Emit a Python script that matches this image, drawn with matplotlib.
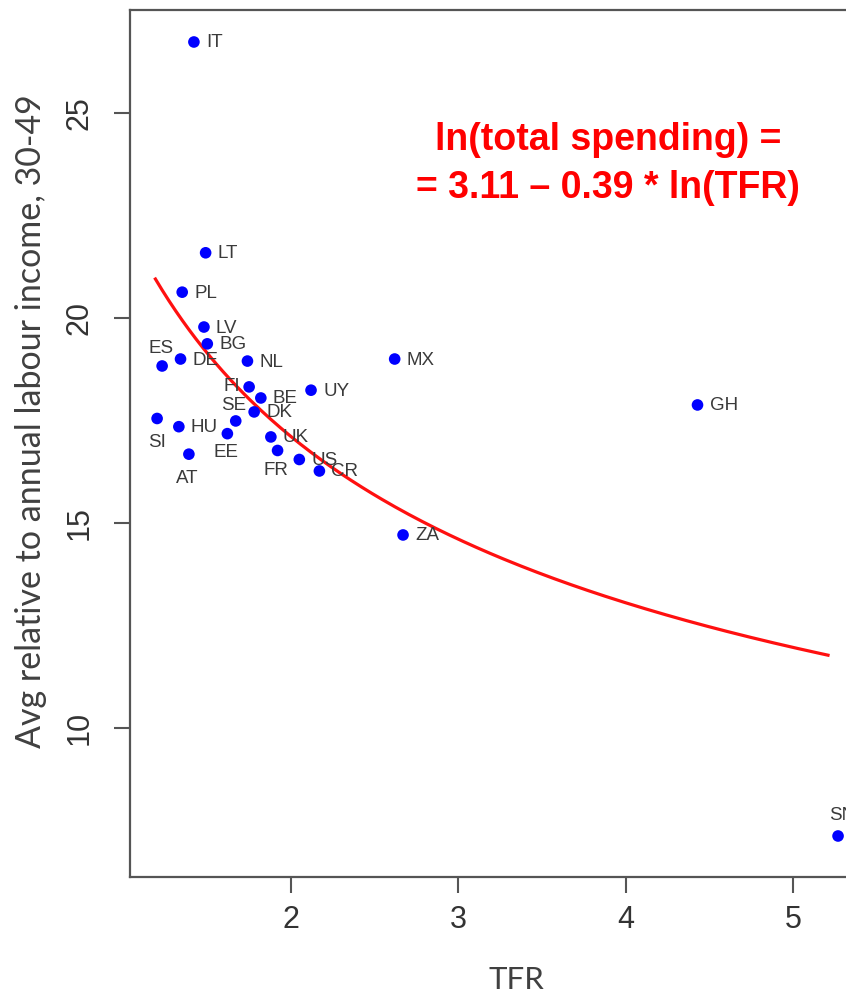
import numpy as np
import matplotlib
matplotlib.use("Agg")
from matplotlib import pyplot as plt

# countries, TFR and avg spending relative to labour income (30-49)
countries = ["IT", "LT", "PL", "LV", "BG", "DE", "ES", "NL", "MX", "FI", "UY", "BE",
             "SE", "DK", "GH", "SI", "HU", "EE", "UK", "FR", "AT", "US", "CR", "ZA", "SN"]
tfr = [1.42, 1.49, 1.35, 1.48, 1.50, 1.34, 1.23, 1.74, 2.62, 1.75, 2.12, 1.82,
       1.67, 1.78, 4.43, 1.20, 1.33, 1.62, 1.88, 1.92, 1.39, 2.05, 2.17, 2.67, 5.27]
spend = [26.73, 21.59, 20.63, 19.78, 19.37, 19.00, 18.83, 18.95, 19.00, 18.32, 18.24, 18.05,
         17.49, 17.71, 17.88, 17.55, 17.35, 17.18, 17.10, 16.77, 16.68, 16.55, 16.27, 14.71, 7.37]

# fitted curve: ln(total spending) = 3.11 - 0.39 * ln(TFR)
b0 = 3.11
b1 = -0.39

xticks = [2, 3, 4, 5]
yticks = [10, 15, 20, 25]

# label placement (pixel offset from point, horizontal alignment)
lab_pos = {"ES": (-1, 17, "center"), "FI": (-9, 0, "right"), "SE": (-2, 15, "center"),
           "SI": (0, -24, "center"), "EE": (-1, -19, "center"), "FR": (-2, -20, "center"),
           "AT": (-2, -24, "center"), "SN": (4, 20, "center")}

fig = plt.figure(figsize=(8.46, 9.97), dpi=100)
ax = fig.add_axes([130 / 846, 120 / 997, 740 / 846, 867 / 997])

xx = np.linspace(1.19, 5.21, 200)
ax.plot(xx, np.exp(b0 + b1 * np.log(xx)), color="#ff1010", lw=2.3, zorder=2)
ax.scatter(tfr, spend, s=70, color="#0000ff", edgecolors="none", zorder=3, clip_on=False)

for c, x, y in zip(countries, tfr, spend):
    dx, dy, ha = lab_pos.get(c, (12, -1, "left"))
    ax.annotate(c, (x, y), xytext=(dx, dy), textcoords="offset pixels", ha=ha, va="center",
                fontsize=13.5, color="#3a3a3a", family=["Liberation Sans", "DejaVu Sans"], zorder=4)

ax.set_xlim(1.038, 5.461)
ax.set_ylim(6.37, 27.51)
ax.set_xticks(xticks)
ax.set_yticks(yticks)
for s in ax.spines.values():
    s.set_color("#555555")
    s.set_linewidth(1.6)
ax.tick_params(length=11.5, width=1.5, color="#555555", labelcolor="#333333", labelsize=22, pad=9)
ax.tick_params(axis="y", labelrotation=90, pad=14)
for t in ax.get_xticklabels() + ax.get_yticklabels():
    t.set_family(["Liberation Sans Narrow", "Liberation Sans", "DejaVu Sans"])
for t in ax.get_yticklabels():
    t.set_va("center")

ax.text(608, 997 - 140, "ln(total spending) =", transform=None, ha="center", va="center",
        fontsize=27, fontweight="bold", color="#ff0000", family=["Liberation Sans", "DejaVu Sans"])
ax.text(608, 997 - 188, "= 3.11 \u2013 0.39 * ln(TFR)", transform=None, ha="center", va="center",
        fontsize=27, fontweight="bold", color="#ff0000", family=["Liberation Sans", "DejaVu Sans"])

fig.text(31 / 846, 1 - 421 / 997, "Avg relative to annual labour income, 30-49", rotation=90,
         ha="center", va="center", fontsize=24.5, color="#404040", family=["Lato", "DejaVu Sans"])
fig.text(516 / 846, 1 - 980 / 997, "TFR", ha="center", va="center",
         fontsize=22.5, color="#404040", family=["Lato", "DejaVu Sans"])

fig.savefig("out.png", dpi=100)
